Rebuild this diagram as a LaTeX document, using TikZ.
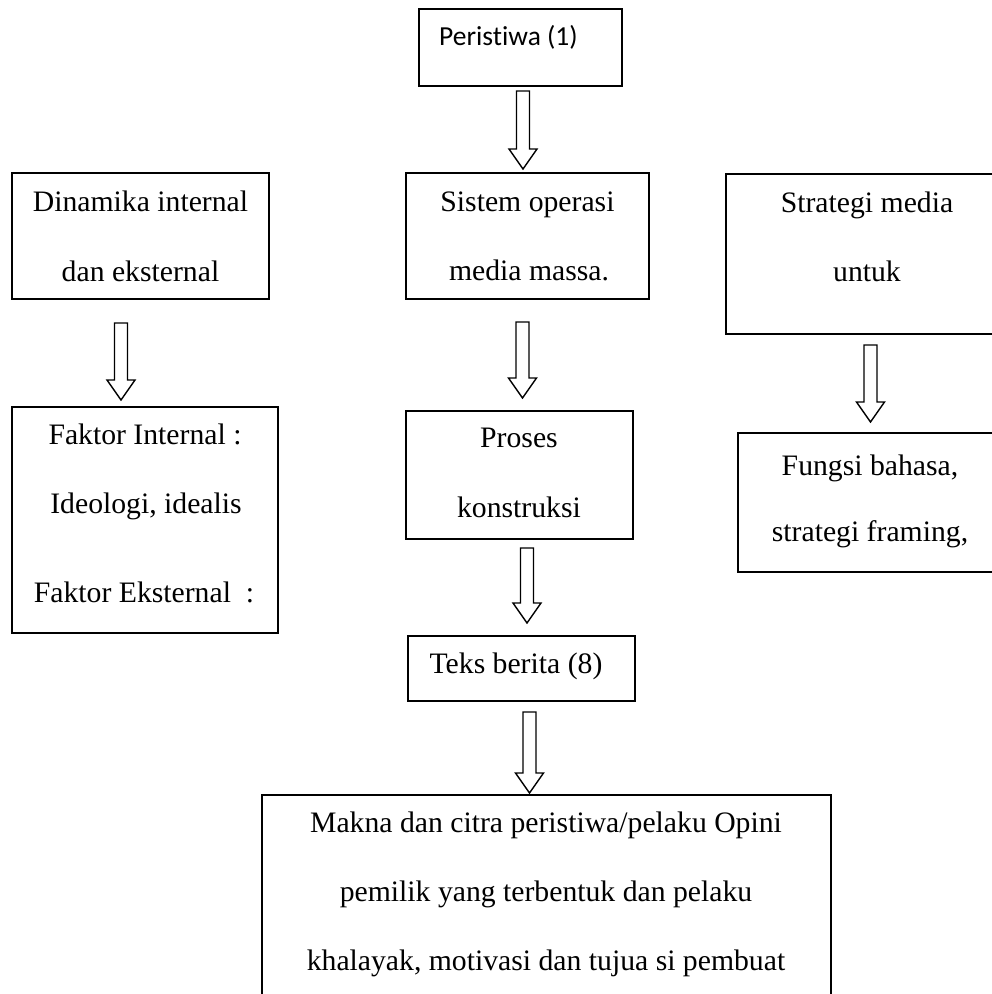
\documentclass[tikz,border=0pt]{standalone}
\usepackage{fontspec}
\setmainfont{Liberation Serif}
\newfontfamily\calib[Ligatures=NoCommon]{Carlito}
\usetikzlibrary{calc}
\tikzset{
  box/.style={draw=black, line width=1.7pt, rectangle, inner sep=0pt, outer sep=0pt},
  txt/.style={anchor=base, inner sep=0pt, font=\fontsize{29.7}{36}\selectfont},
  calibtxt/.style={anchor=base west, inner sep=0pt, font=\calib\fontsize{27.5}{33}\selectfont},
  blockarrow/.style={draw=black, line width=1.4pt, fill=white, line join=miter,
    to path={let \p1=(\tikztostart), \p2=(\tikztotarget) in
      (\x1-6.5pt,\y1) -- (\x1+6.5pt,\y1) -- (\x1+6.5pt,\y2+20pt) -- (\x1+14pt,\y2+20pt)
      -- (\x1,\y2) -- (\x1-14pt,\y2+20pt) -- (\x1-6.5pt,\y2+20pt) -- cycle}}
}
\begin{document}
\begin{tikzpicture}[x=1pt,y=1pt]
\useasboundingbox (0,0) rectangle (992,-994);
\clip (0,0) rectangle (992,-994);
\fill[white] (0,0) rectangle (992,-994);

% boxes
\node[box, minimum width=203, minimum height=77]  (per) at (520.5,-47.5) {};
\node[box, minimum width=257, minimum height=126] (dyn) at (140.5,-236) {};
\node[box, minimum width=243, minimum height=126] (sis) at (527.5,-236) {};
\node[box, minimum width=282, minimum height=160] (str) at (867,-254) {};
\node[box, minimum width=266, minimum height=226] (fak) at (145,-520) {};
\node[box, minimum width=227, minimum height=128] (pro) at (519.5,-475) {};
\node[box, minimum width=227, minimum height=65]  (tek) at (521.5,-668.5) {};
\node[box, minimum width=264, minimum height=139] (fun) at (870,-502.5) {};
\node[box, minimum width=569, minimum height=215] (mak) at (546.5,-902.5) {};

% texts
\node[calibtxt] (tper) at (439,-45) {Perist\kern0pt iwa (1)};
\node[txt] (tdyn1) at (140.5,-211) {Dinamika internal};
\node[txt] (tdyn2) at (140.5,-281) {dan eksternal};
\node[txt] (tsis1) at (527.5,-211) {Sistem operasi};
\node[txt] (tsis2) at (529,-280) {media massa.};
\node[txt] (tstr1) at (867,-212) {Strategi media};
\node[txt] (tstr2) at (867,-281) {untuk};
\node[txt] (tfak1) at (145,-444) {Faktor Internal :};
\node[txt] (tfak2) at (146,-513) {Ideologi, idealis};
\node[txt] (tfak3) at (144,-602) {Faktor Eksternal\ \ :};
\node[txt] (tpro1) at (519,-447) {Proses};
\node[txt] (tpro2) at (519,-517) {konstruksi};
\node[txt] (ttek) at (516,-673) {Teks berita (8)};
\node[txt] (tfun1) at (870,-475) {Fungsi bahasa,};
\node[txt] (tfun2) at (870,-541) {strategi framing,};
\node[txt] (tmak1) at (546,-832) {Makna dan citra peristiwa/pelaku Opini};
\node[txt] (tmak2) at (546,-901) {pemilik yang terbentuk dan pelaku};
\node[txt] (tmak3) at (546,-970) {khalayak, motivasi dan tujua si pembuat};

% block arrows
\draw[blockarrow] ($(per.south)+(2.5,-5)$) to ($(sis.north)+(0,4)$);
\draw[blockarrow] ($(dyn.south)+(-19.5,-24)$) to ($(fak.north)+(0,7)$);
\draw[blockarrow] ($(sis.south)+(-5,-23)$) to ($(pro.north)+(0,13)$);
\draw[blockarrow] ($(pro.south)+(7.5,-9)$) to ($(tek.north)+(0,13)$);
\draw[blockarrow] ($(tek.south)+(8,-11)$) to ($(mak.north)+(0,2)$);
\draw[blockarrow] ($(str.south)+(3.5,-11)$) to ($(fun.north)+(0,11)$);
\end{tikzpicture}
\end{document}
